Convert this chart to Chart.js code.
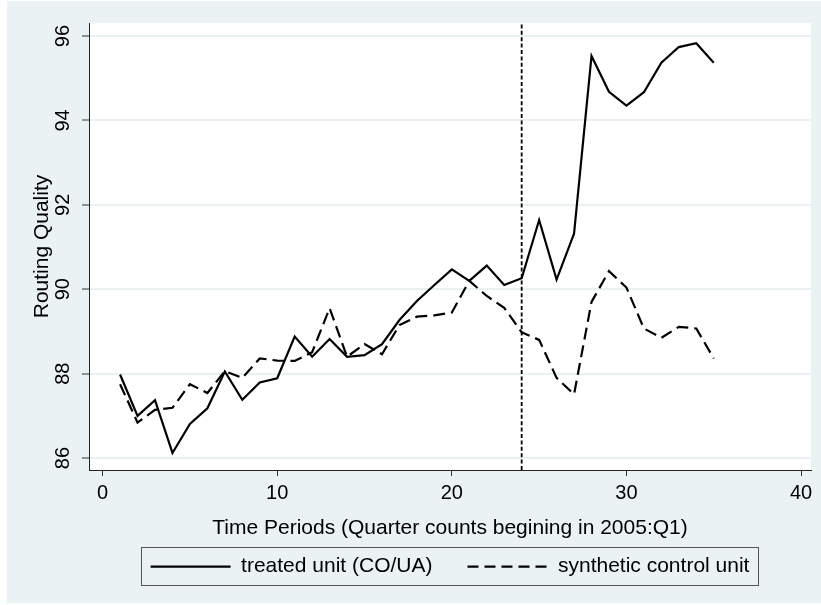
<!DOCTYPE html>
<html>
<head>
<meta charset="utf-8">
<script src="https://cdn.jsdelivr.net/npm/chart.js@4.4.1/dist/chart.umd.min.js"></script>
<style>
  html, body { margin: 0; padding: 0; background: #ffffff; }
  canvas { display: block; }
</style>
</head>
<body>
<canvas id="c" width="821" height="605"></canvas>
<script>
// ---- data ----
const periods = [1,2,3,4,5,6,7,8,9,10,11,12,13,14,15,16,17,18,19,20,21,22,23,24,25,26,27,28,29,30,31,32,33,34,35];
const treatedUnit = [87.98,87.00,87.37,86.12,86.81,87.18,88.05,87.38,87.79,87.89,88.88,88.40,88.82,88.40,88.44,88.70,89.27,89.72,90.10,90.47,90.20,90.56,90.10,90.26,91.64,90.23,91.32,95.53,94.68,94.35,94.67,95.37,95.74,95.83,95.37];
const syntheticControl = [87.75,86.84,87.14,87.19,87.75,87.54,88.06,87.90,88.36,88.31,88.30,88.51,89.55,88.40,88.70,88.46,89.15,89.35,89.38,89.45,90.20,89.84,89.56,88.98,88.80,87.90,87.51,89.70,90.43,90.04,89.07,88.85,89.11,89.07,88.36];
const treatmentPeriod = 24;
const xTickValues = [0,10,20,30,40];
const yTickValues = [86,88,90,92,94,96];
const xRange = [-0.78, 40.57];
const yRange = [85.716, 96.31];
const seriesLabels = ['treated unit (CO/UA)', 'synthetic control unit'];
const xTitle = 'Time Periods (Quarter counts begining in 2005:Q1)';
const yTitle = 'Routing Quality';

const FONT = "'Liberation Sans', Arial, Helvetica, sans-serif";
const BG = '#eaf2f3';

const toXY = (xs, ys) => xs.map((x, i) => ({x: x, y: ys[i]}));

const backgroundPlugin = {
  id: 'stataBackground',
  beforeDraw(chart) {
    const {ctx, chartArea} = chart;
    ctx.save();
    ctx.fillStyle = BG;
    ctx.fillRect(7, 1, chart.width - 7, chart.height - 3);
    ctx.fillStyle = '#ffffff';
    ctx.fillRect(chartArea.left, chartArea.top, chartArea.right - chartArea.left, chartArea.bottom - chartArea.top);
    ctx.restore();
  }
};

const legendFramePlugin = {
  id: 'legendFrame',
  afterDraw(chart) {
    const lg = chart.legend;
    if (!lg || !lg.legendHitBoxes || !lg.legendHitBoxes.length) return;
    const hb = lg.legendHitBoxes;
    const first = hb[0], last = hb[hb.length - 1];
    const cy = first.top + first.height / 2;
    const x0 = first.left - 9.5;
    const x1 = last.left + last.width + 9;
    const y0 = cy - 19.7;
    const y1 = cy + 17.8;
    const ctx = chart.ctx;
    ctx.save();
    ctx.fillStyle = '#ffffff';
    ctx.strokeStyle = '#555555';
    ctx.lineWidth = 1;
    ctx.globalCompositeOperation = 'destination-over';
    ctx.fillRect(Math.round(x0), Math.round(y0), Math.round(x1 - x0), Math.round(y1 - y0));
    ctx.globalCompositeOperation = 'source-over';
    ctx.strokeRect(Math.round(x0) + 0.5, Math.round(y0) + 0.5, Math.round(x1 - x0), Math.round(y1 - y0));
    ctx.restore();
  }
};

const chart = new Chart(document.getElementById('c'), {
  type: 'line',
  data: {
    datasets: [
      {
        label: seriesLabels[0],
        data: toXY(periods, treatedUnit),
        borderColor: '#000000',
        borderWidth: 2.2,
        pointRadius: 0,
        tension: 0,
        fill: false
      },
      {
        label: seriesLabels[1],
        data: toXY(periods, syntheticControl),
        borderColor: '#000000',
        borderWidth: 2.2,
        borderDash: [12, 6],
        pointRadius: 0,
        tension: 0,
        fill: false
      },
      {
        label: 'treatment',
        data: [{x: treatmentPeriod, y: yRange[0]}, {x: treatmentPeriod, y: yRange[1]}],
        borderColor: '#000000',
        borderWidth: 1.8,
        borderDash: [4, 2.4],
        pointRadius: 0,
        fill: false
      }
    ]
  },
  options: {
    responsive: false,
    devicePixelRatio: 1,
    animation: false,
    layout: { padding: { top: 23, right: 10, bottom: 17.8, left: 0 } },
    scales: {
      x: {
        type: 'linear',
        min: xRange[0],
        max: xRange[1],
        afterBuildTicks: (s) => { s.ticks = xTickValues.map(v => ({value: v})); },
        afterFit: (s) => { s.height = 51.2; },
        grid: { drawOnChartArea: false, tickLength: 6, tickColor: '#333333', tickWidth: 1 },
        border: { display: true, color: '#222222', width: 1 },
        ticks: {
          autoSkip: false,
          maxRotation: 0,
          padding: 5,
          color: '#000000',
          font: { family: FONT, size: 20 },
          callback: (v) => String(v)
        },
        title: {
          display: true,
          text: xTitle,
          color: '#000000',
          font: { family: FONT, size: 21 },
          padding: { top: 0, bottom: -20 }
        }
      },
      y: {
        type: 'linear',
        min: yRange[0],
        max: yRange[1],
        afterBuildTicks: (s) => { s.ticks = yTickValues.map(v => ({value: v})); },
        afterFit: (s) => { s.width = 89; },
        grid: { color: '#e9f1f2', lineWidth: 2, tickLength: 7, tickColor: '#333333', tickWidth: 1 },
        border: { display: true, color: '#222222', width: 1 },
        ticks: {
          autoSkip: false,
          minRotation: 90,
          maxRotation: 90,
          crossAlign: 'center',
          padding: 7.6,
          color: '#000000',
          font: { family: FONT, size: 20 },
          callback: (v) => String(v)
        },
        title: {
          display: true,
          text: yTitle,
          color: '#000000',
          font: { family: FONT, size: 21 },
          padding: { top: 30, bottom: 0 }
        }
      }
    },
    plugins: {
      tooltip: { enabled: false },
      legend: {
        position: 'bottom',
        fullSize: false,
        labels: {
          usePointStyle: true,
          pointStyle: 'line',
          pointStyleWidth: 80,
          boxHeight: 10,
          padding: 35,
          color: '#000000',
          font: { family: FONT, size: 21 },
          filter: (item) => item.datasetIndex < 2,
          generateLabels: (ch) => {
            const items = Chart.defaults.plugins.legend.labels.generateLabels(ch);
            items.forEach((it) => {
              const ds = ch.data.datasets[it.datasetIndex];
              it.lineDash = ds.borderDash ? [11, 6] : [];
              it.lineWidth = ds.borderWidth;
              it.strokeStyle = ds.borderColor;
              it.pointStyle = 'line';
            });
            return items;
          }
        }
      }
    }
  },
  plugins: [backgroundPlugin, legendFramePlugin]
});
</script>
</body>
</html>
